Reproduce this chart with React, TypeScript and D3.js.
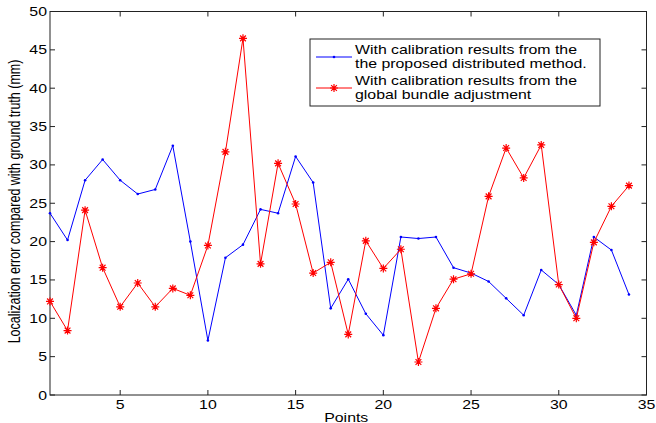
import * as d3 from "d3";
import { useEffect, useRef } from "react";

// точки по оси X
const points = d3.range(1, 35);

// ошибка локализации, предложенный распределённый метод (синяя)
const distributedErr = [
  23.7, 20.2, 28.0, 30.7, 28.0, 26.2, 26.8, 32.5, 20.0, 7.1,
  17.9, 19.6, 24.2, 23.7, 31.1, 27.7, 11.3, 15.1, 10.6, 7.8,
  20.6, 20.4, 20.6, 16.6, 15.9, 14.8, 12.6, 10.4, 16.3, 14.4,
  10.4, 20.6, 18.9, 13.1,
];

// ошибка локализации, глобальная bundle adjustment (красная)
const bundleErr = [
  12.2, 8.4, 24.1, 16.6, 11.5, 14.6, 11.5, 13.9, 13.0, 19.5,
  31.7, 46.5, 17.1, 30.2, 24.9, 15.9, 17.3, 7.9, 20.1, 16.5,
  19.0, 4.3, 11.3, 15.1, 15.8, 25.9, 32.2, 28.3, 32.6, 14.4,
  10.0, 19.9, 24.6, 27.3,
];

const xTicks = [5, 10, 15, 20, 25, 30, 35];
const yTicks = d3.range(0, 51, 5);

const legendLines = [
  ["With calibration results from the", "the proposed distributed method."],
  ["With calibration results from the", "global bundle adjustment"],
];

const App = () => {
  const ref = useRef(null);

  const width = 656;
  const height = 423;
  const margin = { top: 11.5, bottom: 28, left: 50, right: 9.5 };
  const boundsWidth = width - margin.left - margin.right;
  const boundsHeight = height - margin.top - margin.bottom;
  const font = "'Liberation Sans', Arial, sans-serif";
  const fs = 12.5;
  const stretch = 1.27; // текст в оригинале растянут по горизонтали

  useEffect(() => {
    const svg = d3.select(ref.current);
    svg.selectAll("*").remove();

    const x = d3.scaleLinear().domain([1, 35]).range([0, boundsWidth]);
    const y = d3.scaleLinear().domain([0, 50]).range([boundsHeight, 0]);

    svg.append("rect").attr("width", width).attr("height", height).attr("fill", "#fff");

    const g = svg
      .append("g")
      .attr("transform", `translate(${margin.left},${margin.top})`);

    const text = (parent, tx, ty, str, anchor) =>
      parent
        .append("text")
        .attr("transform", `translate(${tx},${ty}) scale(${stretch},1)`)
        .attr("text-anchor", anchor)
        .style("font-family", font)
        .style("font-size", `${fs}px`)
        .attr("fill", "#000")
        .text(str);

    // рамка осей
    g.append("rect")
      .attr("width", boundsWidth)
      .attr("height", boundsHeight)
      .attr("fill", "none")
      .attr("stroke", "#222")
      .attr("stroke-width", 1);

    const tl = 5;
    xTicks.forEach((t) => {
      const px = x(t);
      g.append("line").attr("x1", px).attr("x2", px).attr("y1", boundsHeight).attr("y2", boundsHeight - tl).attr("stroke", "#222");
      g.append("line").attr("x1", px).attr("x2", px).attr("y1", 0).attr("y2", tl).attr("stroke", "#222");
      text(g, px, boundsHeight + 14, String(t), "middle");
    });
    yTicks.forEach((t) => {
      const py = y(t);
      g.append("line").attr("x1", 0).attr("x2", tl).attr("y1", py).attr("y2", py).attr("stroke", "#222");
      g.append("line").attr("x1", boundsWidth).attr("x2", boundsWidth - tl).attr("y1", py).attr("y2", py).attr("stroke", "#222");
      text(g, -3, py + 4.5, String(t), "end");
    });

    // подписи осей
    text(g, boundsWidth / 2 - 2, boundsHeight + 26.5, "Points", "middle");
    svg
      .append("text")
      .attr("transform", `translate(20,${margin.top + 190}) rotate(-90) scale(1,${stretch})`)
      .attr("text-anchor", "middle")
      .style("font-family", font)
      .style("font-size", `${fs}px`)
      .text("Localization error compared with ground truth (mm)");

    const line = d3
      .line()
      .x((d, i) => x(points[i]))
      .y((d) => y(d));

    // синяя линия
    g.append("path")
      .attr("d", line(distributedErr))
      .attr("fill", "none")
      .attr("stroke", "#0000ff")
      .attr("stroke-width", 1);
    g.selectAll(".dot-blue")
      .data(distributedErr)
      .enter()
      .append("circle")
      .attr("class", "dot-blue")
      .attr("cx", (d, i) => x(points[i]))
      .attr("cy", (d) => y(d))
      .attr("r", 1.3)
      .attr("fill", "#0000ff");

    // красная линия со звёздочками
    const star = (r) =>
      `M${-r},0L${r},0M0,${-r}L0,${r}M${-r * 0.72},${-r * 0.72}L${r * 0.72},${r * 0.72}M${-r * 0.72},${r * 0.72}L${r * 0.72},${-r * 0.72}`;
    g.append("path")
      .attr("d", line(bundleErr))
      .attr("fill", "none")
      .attr("stroke", "#ff0000")
      .attr("stroke-width", 1);
    g.selectAll(".star-red")
      .data(bundleErr)
      .enter()
      .append("path")
      .attr("class", "star-red")
      .attr("transform", (d, i) => `translate(${x(points[i])},${y(d)})`)
      .attr("d", star(4))
      .attr("stroke", "#ff0000")
      .attr("stroke-width", 1.2)
      .attr("fill", "none");

    // легенда
    const lg = svg.append("g").attr("transform", "translate(310,39)");
    lg.append("rect")
      .attr("width", 290)
      .attr("height", 67)
      .attr("fill", "#fff")
      .attr("stroke", "#222");
    const colors = ["#0000ff", "#ff0000"];
    legendLines.forEach((ls, k) => {
      const cy = 18 + k * 31;
      lg.append("line").attr("x1", 6).attr("x2", 42).attr("y1", cy).attr("y2", cy).attr("stroke", colors[k]);
      if (k === 0) {
        lg.append("circle").attr("cx", 24).attr("cy", cy).attr("r", 1.3).attr("fill", colors[k]);
      } else {
        lg.append("path")
          .attr("transform", `translate(24,${cy})`)
          .attr("d", star(4))
          .attr("stroke", colors[k])
          .attr("stroke-width", 1.2);
      }
      ls.forEach((s, j) => text(lg, 45, 15 + k * 31 + j * 14.3, s, "start"));
    });
  }, []);

  return (
    <svg
      ref={ref}
      width={width}
      height={height}
      style={{ position: "absolute", left: 0, top: 0 }}
    ></svg>
  );
};

export default App;
